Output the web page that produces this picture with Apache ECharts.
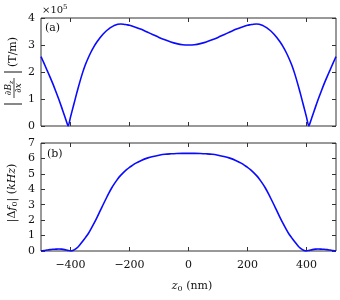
<!DOCTYPE html>
<html><head><meta charset="utf-8">
<script src="https://cdn.jsdelivr.net/npm/echarts@6/dist/echarts.min.js"></script>
<style>html,body{margin:0;padding:0;background:#fff}#c{width:340px;height:300px}</style>
</head><body><div id="c"></div>
<script>
var zTop = [-500,-490,-480,-470,-460,-450,-440,-430,-420,-410,-408,-400,-390,-380,-370,-360,-350,-340,-330,-320,-310,-300,-290,-280,-270,-260,-250,-240,-230,-220,-210,-200,-180,-160,-140,-120,-100,-80,-60,-40,-20,0,
 20,40,60,80,100,120,140,160,180,200,210,220,230,240,250,260,270,280,290,300,310,320,330,340,350,360,370,380,390,400,408,410,420,430,440,450,460,470,480,490,500];
var gradB = [2.57,2.33,2.08,1.83,1.57,1.29,1.0,0.69,0.37,0.05,0.0,0.33,0.75,1.17,1.57,1.94,2.26,2.52,2.75,2.95,3.12,3.27,3.4,3.51,3.6,3.67,3.73,3.77,3.78,3.77,3.75,3.73,3.66,3.58,3.48,3.38,3.28,3.19,3.11,3.05,3.01,3.0,
 3.01,3.05,3.11,3.19,3.28,3.38,3.48,3.58,3.66,3.73,3.75,3.77,3.78,3.77,3.73,3.67,3.6,3.51,3.4,3.27,3.12,2.95,2.75,2.52,2.26,1.94,1.57,1.17,0.75,0.33,0.0,0.05,0.37,0.69,1.0,1.29,1.57,1.83,2.08,2.33,2.57];
var zBot = [-500,-490,-480,-470,-460,-450,-440,-430,-420,-410,-400,-390,-380,-370,-360,-350,-340,-330,-320,-310,-300,-290,-280,-270,-260,-250,-240,-230,-220,-210,-200,-190,-180,-160,-140,-120,-100,-80,-60,-40,-20,0,
 20,40,60,80,100,120,140,160,180,190,200,210,220,230,240,250,260,270,280,290,300,310,320,330,340,350,360,370,380,390,400,410,420,430,440,450,460,470,480,490,500];
var deltaF = [0.01,0.03,0.06,0.09,0.11,0.12,0.13,0.12,0.09,0.04,0.0,0.05,0.17,0.36,0.6,0.85,1.12,1.45,1.8,2.18,2.58,2.98,3.37,3.75,4.1,4.4,4.67,4.9,5.1,5.27,5.42,5.55,5.68,5.87,6.02,6.13,6.21,6.27,6.3,6.32,6.33,6.33,
 6.33,6.32,6.3,6.27,6.21,6.13,6.02,5.87,5.68,5.55,5.42,5.27,5.1,4.9,4.67,4.4,4.1,3.75,3.37,2.98,2.58,2.18,1.8,1.45,1.12,0.85,0.6,0.36,0.17,0.05,0.0,0.04,0.09,0.12,0.13,0.12,0.11,0.09,0.06,0.03,0.01];
var xTicks = [-400,-200,0,200,400];

var FONT = 'DejaVu Serif';
var chart = echarts.init(document.getElementById('c'), null, {renderer:'canvas'});
function xAx(grid, pos, labels){
  return {type:'value', gridIndex:grid, position:pos, min:-500, max:500,
    axisLine:{show:false, onZero:false}, splitLine:{show:false},
    axisTick:{show:true, inside:true, length:4, customValues:xTicks, lineStyle:{color:'#333'}},
    axisLabel:{show:labels, customValues:xTicks, margin:9, color:'#111', fontFamily:FONT, fontSize:11,
      formatter:function(v){return v<0?'\u2212'+(-v):String(v);}}};
}
function yAx(grid, pos, max, labels){
  return {type:'value', gridIndex:grid, position:pos, min:0, max:max, interval:1,
    axisLine:{show:false, onZero:false}, splitLine:{show:false},
    axisTick:{show:true, inside:true, length:4, lineStyle:{color:'#333'}},
    axisLabel:{show:labels, margin:6, color:'#111', fontFamily:FONT, fontSize:11}};
}
function pairs(xs, ys){ return xs.map(function(x,i){return [x, ys[i]];}); }
var option = {
  animation:false,
  grid:[
    {left:41, top:18, width:295, height:108, show:true, borderColor:'#333', borderWidth:1, backgroundColor:'transparent'},
    {left:41, top:143, width:295, height:108, show:true, borderColor:'#333', borderWidth:1, backgroundColor:'transparent'}
  ],
  xAxis:[xAx(0,'bottom',false), xAx(0,'top',false), xAx(1,'bottom',true), xAx(1,'top',false)],
  yAxis:[yAx(0,'left',4,true), yAx(0,'right',4,false), yAx(1,'left',7,true), yAx(1,'right',7,false)],
  series:[
    {type:'line', xAxisIndex:0, yAxisIndex:0, data:pairs(zTop,gradB), showSymbol:false, smooth:0.3, lineStyle:{color:'#0a0aff', width:1.6}},
    {type:'line', xAxisIndex:2, yAxisIndex:2, data:pairs(zBot,deltaF), showSymbol:false, smooth:0.3, lineStyle:{color:'#0a0aff', width:1.6}}
  ],
  graphic:[
    {type:'text', left:45, top:23, style:{text:'(a)', font:'11px '+FONT, fill:'#111'}},
    {type:'text', left:47, top:149, style:{text:'(b)', font:'11px '+FONT, fill:'#111'}},
    {type:'text', left:42, top:4, style:{text:'\u00d710{s|5}', font:'10px '+FONT, fill:'#111',
      rich:{s:{fontSize:7, fontFamily:FONT, verticalAlign:'top', padding:[0,0,6,0]}}}},
    {type:'text', x:192, y:286, style:{text:'{i|z}{s|0} (nm)', font:'11px '+FONT, fill:'#111', align:'center', verticalAlign:'middle',
      rich:{i:{fontStyle:'italic', fontSize:11, fontFamily:FONT}, s:{fontSize:8, fontFamily:FONT, padding:[5,0,0,0]}}}},
    {type:'group', x:13, y:62, rotation:Math.PI/2, children:[
      {type:'line', shape:{x1:-42, y1:-9, x2:-42, y2:9}, style:{stroke:'#111', lineWidth:1}},
      {type:'text', x:-26, y:-4, style:{text:'{i|\u2202B}{s|z}', font:'9px '+FONT, fill:'#111', align:'center', verticalAlign:'middle',
        rich:{i:{fontStyle:'italic', fontSize:9, fontFamily:FONT}, s:{fontStyle:'italic', fontSize:6, fontFamily:FONT, padding:[4,0,0,0]}}}},
      {type:'line', shape:{x1:-36, y1:1, x2:-16, y2:1}, style:{stroke:'#111', lineWidth:0.8}},
      {type:'text', x:-26, y:6, style:{text:'\u2202x', font:'italic 9px '+FONT, fill:'#111', align:'center', verticalAlign:'middle'}},
      {type:'line', shape:{x1:-10, y1:-9, x2:-10, y2:9}, style:{stroke:'#111', lineWidth:1}},
      {type:'text', x:-5, y:0, style:{text:'(T/m)', font:'11px '+FONT, fill:'#111', align:'left', verticalAlign:'middle'}}
    ]},
    {type:'text', x:12, y:193, rotation:Math.PI/2, style:{text:'|\u0394{i|f}{s|0}| ({i|kHz})', font:'11px '+FONT, fill:'#111', align:'center', verticalAlign:'middle',
      rich:{i:{fontStyle:'italic', fontSize:11, fontFamily:FONT}, s:{fontSize:8, fontFamily:FONT, padding:[5,0,0,0]}}}}
  ]
};
chart.setOption(option);
</script></body></html>
